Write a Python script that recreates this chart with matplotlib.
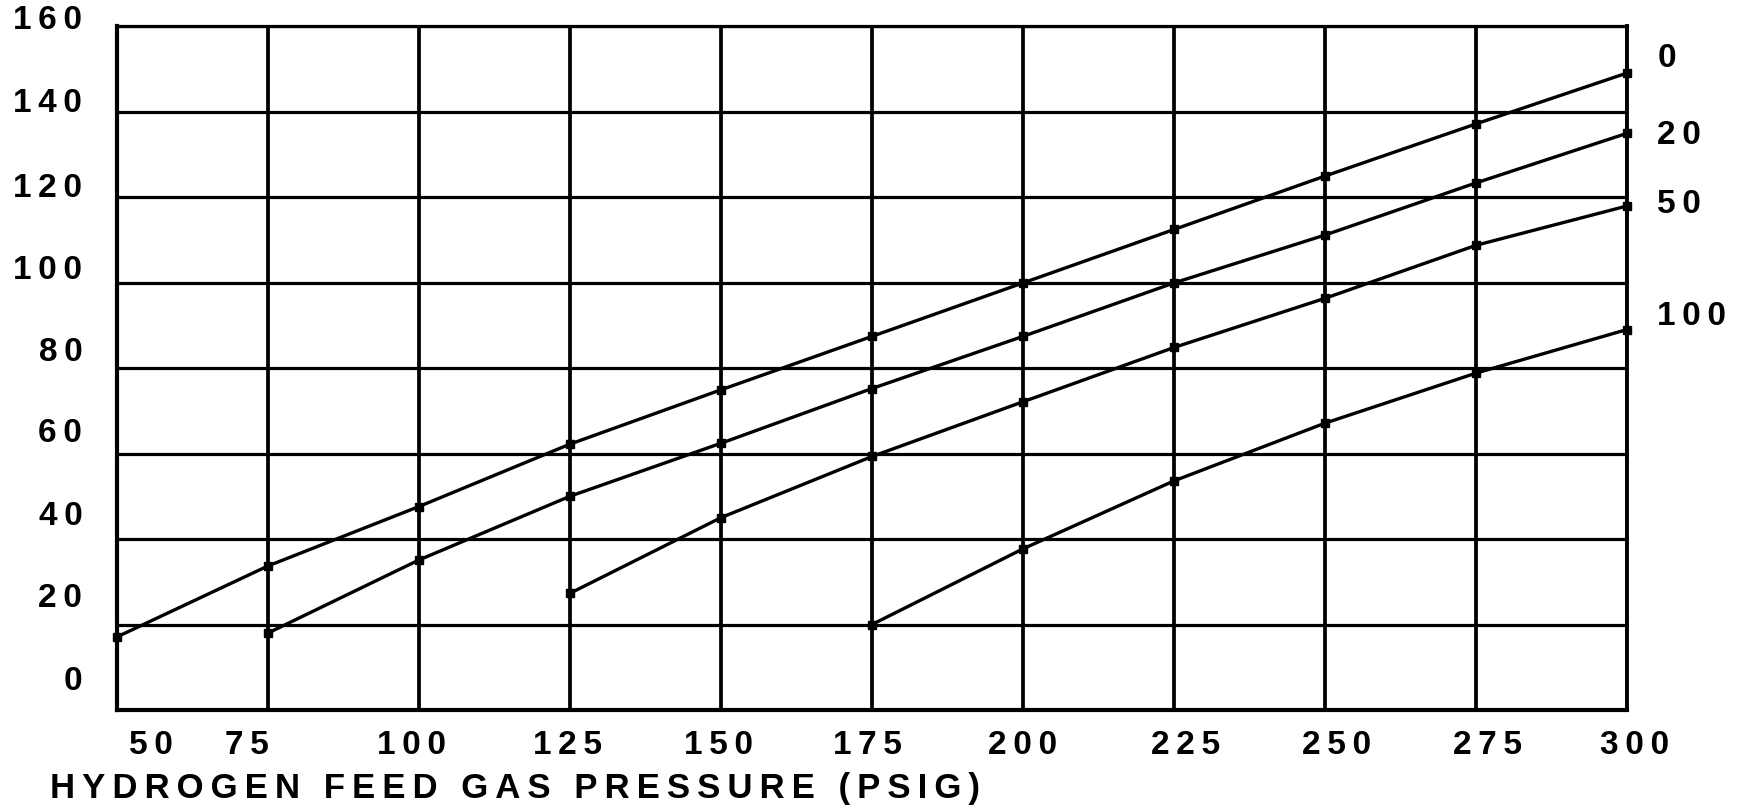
import matplotlib
matplotlib.use("Agg")
import matplotlib.pyplot as plt

# =============================
# DATA
# =============================
pressure = [50, 75, 100, 125, 150, 175, 200, 225, 250, 275, 300]

curve_labels = ["0", "20", "50", "100"]

x_0 = [50, 75, 100, 125, 150, 175, 200, 225, 250, 275, 300]
y_0 = [17.1, 33.7, 47.6, 62.2, 74.9, 87.4, 99.9, 112.4, 124.9, 137.1, 149.0]

x_20 = [75, 100, 125, 150, 175, 200, 225, 250, 275, 300]
y_20 = [18.0, 35.1, 50.0, 62.4, 75.2, 87.4, 99.9, 111.1, 123.3, 134.9]

x_50 = [125, 150, 175, 200, 225, 250, 275, 300]
y_50 = [27.3, 45.0, 59.3, 72.1, 84.8, 96.3, 108.7, 117.9]

x_100 = [175, 200, 225, 250, 275, 300]
y_100 = [20.0, 37.7, 53.6, 67.1, 78.8, 89.0]

y_grid = [0, 20, 40, 60, 80, 100, 120, 140, 160]
y_tick_labels = ["0", "20", "40", "60", "80", "100", "120", "140", "160"]
x_tick_labels = ["50", "75", "100", "125", "150", "175", "200", "225", "250", "275", "300"]

# label placement in data units (labels in the original drift off the grid)
y_label_pos = [6.8, 26.4, 45.6, 64.8, 83.8, 103.0, 122.3, 142.2, 161.6]
x_label_pos = [55.6, 71.5, 98.8, 124.6, 149.6, 174.2, 199.9, 226.9, 251.9, 276.9, 301.3]
right_label_y = [152.7, 134.7, 118.4, 92.2]

xlabel = "HYDROGEN FEED GAS PRESSURE (PSIG)"

TS = "\u2009"


def spaced(s, sep=TS, word_sep=TS + " " + TS):
    words = s.split(" ")
    return word_sep.join(sep.join(w) for w in words)


# =============================
# PLOT
# =============================
plt.rcParams["font.family"] = ["Liberation Sans", "DejaVu Sans"]
plt.rcParams["font.weight"] = "bold"

fig = plt.figure(figsize=(17.5, 8.12), dpi=100)
ax = fig.add_axes([117 / 1750, 1 - 711 / 812, 1510 / 1750, 684 / 812])

# grid only, labels are placed as text below
ax.set_xticks([])
ax.set_yticks([])
ax.set_xticks(pressure, minor=True)
ax.set_yticks(y_grid, minor=True)
ax.grid(which="minor", axis="x", color="black", lw=2.7)
ax.grid(which="minor", axis="y", color="black", lw=2.3)
ax.tick_params(which="both", length=0, labelbottom=False, labelleft=False)

ax.set_xlim(50, 300)
ax.set_ylim(0, 160)

for side, w in [("left", 3.0), ("bottom", 3.0), ("top", 2.3), ("right", 2.8)]:
    ax.spines[side].set_linewidth(w)
    ax.spines[side].set_color("black")

for lab, yv in zip(y_tick_labels, y_label_pos):
    ax.annotate(spaced(lab), xy=(0, yv), xycoords=("axes fraction", "data"),
                xytext=(-25, 0), textcoords="offset points",
                ha="right", va="center", fontsize=24, fontweight="bold",
                annotation_clip=False)

for lab, xv in zip(x_tick_labels, x_label_pos):
    ax.annotate(spaced(lab), xy=(xv, 0), xycoords=("data", "axes fraction"),
                xytext=(0, -24.5), textcoords="offset points",
                ha="center", va="center", fontsize=24, fontweight="bold",
                annotation_clip=False)

series = [(x_0, y_0), (x_20, y_20), (x_50, y_50), (x_100, y_100)]
for (xs, ys), lab, ly in zip(series, curve_labels, right_label_y):
    ax.plot(xs, ys, color="black", lw=2.4, marker="s", ms=6,
            clip_on=False, zorder=3)
    ax.text(305, ly, spaced(lab), fontsize=24, fontweight="bold",
            ha="left", va="center")

fig.text(50 / 1750, 1 - 789 / 812, spaced(xlabel),
         fontsize=25, fontweight="bold", ha="left", va="center")

fig.savefig("out.png", dpi=100)
